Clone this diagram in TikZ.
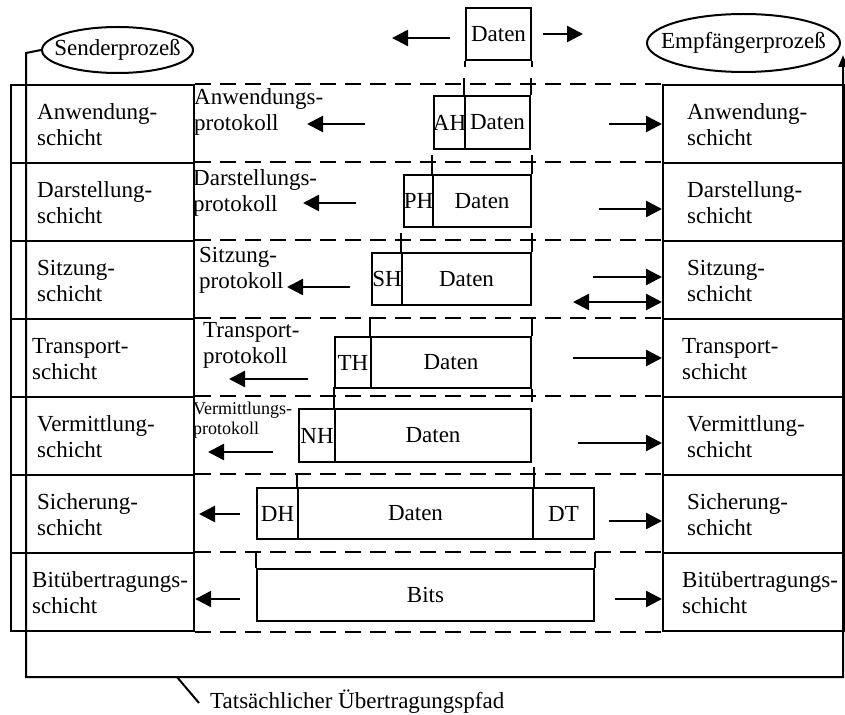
\documentclass[tikz,border=0pt]{standalone}
\usepackage{fontspec}
\setmainfont{Liberation Serif}
\usetikzlibrary{arrows.meta,shapes.geometric}
\begin{document}
\begin{tikzpicture}[x=1pt,y=-1pt,
  lay/.style={draw,line width=2.2pt,inner sep=0pt,anchor=north west,minimum height=78pt},
  pdu/.style={draw,line width=2pt,inner sep=0pt,anchor=north west},
  txt/.style={inner sep=0pt,font=\fontsize{23}{26}\selectfont},
  ltxt/.style={txt,anchor=west,align=left},
  stxt/.style={inner sep=0pt,anchor=west,align=left,font=\fontsize{18}{20}\selectfont},
  dashline/.style={line width=2.2pt,dash pattern=on 16pt off 9pt},
  arr/.style={line width=2.5pt,-{Triangle[length=16pt,width=16pt]}},
  darr/.style={line width=2.5pt,{Triangle[length=16pt,width=16pt]}-{Triangle[length=16pt,width=16pt]}},
  link/.style={line width=2pt},
  pathl/.style={line width=2pt},
  procshape/.style={draw,ellipse,line width=2pt,inner sep=0pt}
]
\useasboundingbox (0,0) rectangle (845,714);

% processes
\node[procshape,minimum width=151pt,minimum height=46pt] (sp) at (117.5,50) {};
\node[txt] (spt) at (sp.center) {Senderprozeß};
\node[procshape,minimum width=193pt,minimum height=58pt] (ep) at (743.5,43) {};
\node[txt] (ept) at (ep.center) {Empfängerprozeß};

% layer boxes
\foreach \i/\y in {1/84,2/162,3/240,4/318,5/396,6/474,7/552}{
  \node[lay,minimum width=183pt] (L\i) at (10,\y) {};
  \node[lay,minimum width=181pt] (R\i) at (662,\y) {};
}
\foreach \i in {1,...,7}{
  \draw[dashline] (L\i.north east) -- (R\i.north west);
}
\draw[dashline] (L7.south east) -- (R7.south west);

% actual transmission path
\coordinate (pA) at (26,53);
\coordinate (pB) at (26,677);
\coordinate (pC) at (843,677);
\coordinate (pD) at (843,55);
\draw[pathl,-{Triangle[length=12pt,width=9pt]}] (sp.west) -- (pA) -- (pB) -- (pC) -- (pD);
\coordinate (c1) at (177,677);
\coordinate (c2) at (199,703);
\draw[pathl] (c1) -- (c2);
\node[txt,anchor=base west] (cap) at (210,708) {Tatsächlicher Übertragungspfad};

% layer labels left
\node[ltxt] (tL1) at (37,125) {Anwendung-\\schicht};
\node[ltxt] (tL2) at (37,203) {Darstellung-\\schicht};
\node[ltxt] (tL3) at (37,281) {Sitzung-\\schicht};
\node[ltxt] (tL4) at (32,359) {Transport-\\schicht};
\node[ltxt] (tL5) at (37,437) {Vermittlung-\\schicht};
\node[ltxt] (tL6) at (37,515) {Sicherung-\\schicht};
\node[ltxt] (tL7) at (32,593) {Bitübertragungs-\\schicht};
% layer labels right
\node[ltxt] (tR1) at (687,125) {Anwendung-\\schicht};
\node[ltxt] (tR2) at (687,203) {Darstellung-\\schicht};
\node[ltxt] (tR3) at (687,281) {Sitzung-\\schicht};
\node[ltxt] (tR4) at (682,359) {Transport-\\schicht};
\node[ltxt] (tR5) at (687,437) {Vermittlung-\\schicht};
\node[ltxt] (tR6) at (687,515) {Sicherung-\\schicht};
\node[ltxt] (tR7) at (682,593) {Bitübertragungs-\\schicht};

% protocol labels
\node[ltxt] (p1) at (194,112) {Anwendungs-\\protokoll};
\node[ltxt] (p2) at (193,193) {Darstellungs-\\protokoll};
\node[ltxt] (p3) at (199,270) {Sitzung-\\protokoll};
\node[ltxt] (p4) at (203,345) {Transport-\\protokoll};
\node[stxt] (p5) at (193,420) {Vermittlungs-\\protokoll};

% PDUs
\node[pdu,minimum width=65pt,minimum height=52pt] (D0) at (465,7) {};
\node[txt] at (D0.center) {Daten};
\node[pdu,minimum width=31pt,minimum height=53pt] (AH) at (433,95) {};
\node[pdu,minimum width=65pt,minimum height=53pt] (AD) at (464,95) {};
\node[txt] at (AH.center) {AH};
\node[txt] at (AD.center) {Daten};
\node[pdu,minimum width=29pt,minimum height=52pt] (PH) at (403,174) {};
\node[pdu,minimum width=98pt,minimum height=52pt] (PD) at (432,174) {};
\node[txt] at (PH.center) {PH};
\node[txt] at (PD.center) {Daten};
\node[pdu,minimum width=30pt,minimum height=52pt] (SH) at (371,252) {};
\node[pdu,minimum width=129pt,minimum height=52pt] (SD) at (401,252) {};
\node[txt] at (SH.center) {SH};
\node[txt] at (SD.center) {Daten};
\node[pdu,minimum width=36pt,minimum height=51pt] (TH) at (334,336) {};
\node[pdu,minimum width=160pt,minimum height=51pt] (TD) at (370,336) {};
\node[txt] at (TH.center) {TH};
\node[txt] at (TD.center) {Daten};
\node[pdu,minimum width=36pt,minimum height=53pt] (NH) at (298,408) {};
\node[pdu,minimum width=196pt,minimum height=53pt] (ND) at (334,408) {};
\node[txt] at (NH.center) {NH};
\node[txt] at (ND.center) {Daten};
\node[pdu,minimum width=41pt,minimum height=51pt] (DH) at (256,487) {};
\node[pdu,minimum width=235pt,minimum height=51pt] (DD) at (297,487) {};
\node[pdu,minimum width=61pt,minimum height=51pt] (DT) at (532,487) {};
\node[txt] at (DH.center) {DH};
\node[txt] at (DD.center) {Daten};
\node[txt] at (DT.center) {DT};
\node[pdu,minimum width=337pt,minimum height=52pt] (Bits) at (256,568) {};
\node[txt] at (Bits.center) {Bits};

% encapsulation links
\draw[link] (D0.south west) -- (D0.south west |- 0,67);
\draw[link] (D0.south east) -- (D0.south east |- 0,67);
\draw[link] (AD.north west |- 0,78) -- (AD.north west);
\draw[link] (AD.north east |- 0,78) -- (AD.north east);
\draw[link] (PD.north west |- 0,155) -- (PD.north west);
\draw[link] (PD.north east |- 0,155) -- (PD.north east);
\draw[link] (SD.north west |- 0,233) -- (SD.north west);
\draw[link] (SD.north east |- 0,233) -- (SD.north east);
\draw[link] (TD.north west |- 0,317) -- (TD.north west);
\draw[link] (TD.north east |- 0,317) -- (TD.north east);
\draw[link] (ND.north west |- 0,387) -- (ND.north west);
\draw[link] (TD.south east) -- (TD.south east |- 0,402);
\draw[link] (DD.north west |- 0,473) -- (DD.north west);
\draw[link] (DD.north east |- 0,467) -- (DD.north east);
\draw[link] (Bits.north west |- 0,552) -- (Bits.north west);
\draw[link] (Bits.north east |- 0,552) -- (Bits.north east);

% arrows to sender side
\coordinate (a0l) at (450,38);  \coordinate (b0l) at (392,38);
\coordinate (a1l) at (365,124); \coordinate (b1l) at (307,124);
\coordinate (a2l) at (356,203); \coordinate (b2l) at (303,203);
\coordinate (a3l) at (350,287); \coordinate (b3l) at (287,287);
\coordinate (a4l) at (308,379); \coordinate (b4l) at (229,379);
\coordinate (a5l) at (273,452); \coordinate (b5l) at (208,452);
\coordinate (a6l) at (240,514); \coordinate (b6l) at (199,514);
\coordinate (a7l) at (240,599);
\draw[arr] (a0l) -- (b0l);
\draw[arr] (a1l) -- (b1l);
\draw[arr] (a2l) -- (b2l);
\draw[arr] (a3l) -- (b3l);
\draw[arr] (a4l) -- (b4l);
\draw[arr] (a5l) -- (b5l);
\draw[arr] (a6l) -- (b6l);
\draw[arr] (a7l) -- (L7.east |- a7l);

% arrows to receiver side
\coordinate (a0r) at (543,34); \coordinate (b0r) at (583,34);
\coordinate (a1r) at (609,124);
\coordinate (a2r) at (599,209);
\coordinate (a3r) at (593,277);
\coordinate (a3d) at (573,302);
\coordinate (a4r) at (573,358);
\coordinate (a5r) at (578,443);
\coordinate (a6r) at (609,521);
\coordinate (a7r) at (615,599);
\draw[arr] (a0r) -- (b0r);
\draw[arr] (a1r) -- (R1.west |- a1r);
\draw[arr] (a2r) -- (R2.west |- a2r);
\draw[arr] (a3r) -- (R3.west |- a3r);
\draw[darr] (a3d) -- (R3.west |- a3d);
\draw[arr] (a4r) -- (R4.west |- a4r);
\draw[arr] (a5r) -- (R5.west |- a5r);
\draw[arr] (a6r) -- (R6.west |- a6r);
\draw[arr] (a7r) -- (R7.west |- a7r);
\end{tikzpicture}
\end{document}
